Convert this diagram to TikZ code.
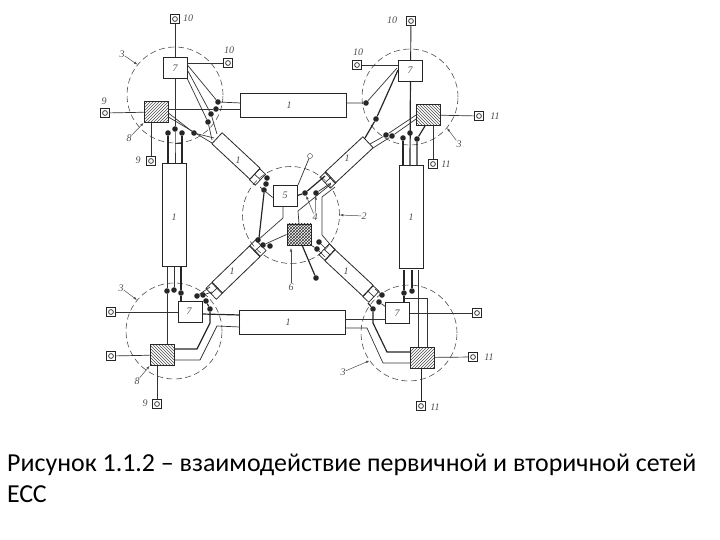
\documentclass[tikz,border=0pt]{standalone}
\usepackage{fontspec}
\setmainfont{Carlito}
\newfontfamily\tagfont{Liberation Serif}
\usetikzlibrary{arrows.meta,patterns}
\tikzset{
    zone/.style={draw=black!70, circle, dash pattern=on 6pt off 3.5pt, line width=0.6pt, minimum size=96pt, inner sep=0pt},
    unitbox/.style={draw=black!85, line width=0.8pt, minimum width=24pt, minimum height=21pt, inner sep=0pt},
    tube/.style={draw=black!85, line width=0.8pt, minimum width=106pt, minimum height=24pt, inner sep=0pt},
    uptube/.style={draw=black!85, line width=0.8pt, minimum width=24pt, minimum height=103pt, inner sep=0pt},
    difftube/.style={draw=black!85, line width=0.8pt, minimum width=52pt, minimum height=15pt, inner sep=0pt},
    coupler/.style={draw=black!85, line width=0.7pt, minimum width=8pt, minimum height=15pt, inner sep=0pt},
    terminal/.style={draw=black!85, line width=0.7pt, minimum size=9pt, inner sep=0pt, path picture={\draw[black!85] (path picture bounding box.center) circle (2.4pt);}},
    dot/.style={circle, fill=black!85, minimum size=5.6pt, inner sep=0pt},
    wire/.style={black!80, line width=0.7pt},
    bus/.style={black!85, line width=1.2pt},
    tag/.style={font=\tagfont\itshape\fontsize{10}{10}\selectfont, text=black!70, inner sep=0pt},
    pointer/.style={black!70, line width=0.5pt, -{Latex[length=3.5pt,width=2.5pt]}}
}
\begin{document}
\begin{tikzpicture}[x=1pt, y=-1pt]
\useasboundingbox (0,0) rectangle (720,540);
% exchange zones
\foreach \name/\x/\y in {ztl/175/95,ztr/410/97,zbl/174/331,zbr/409/333}
    \node[zone] (\name) at (\x,\y) {};
\node[zone, minimum size=97pt] (zc) at (291,215) {};
% trunk lines
\node[tube] (tt) at (293,105) {};
\node[tube] (tb) at (292,322) {};
\node[uptube] (tl) at (174,215) {};
\node[uptube] (tr) at (411,217) {};
% diagonal lines
\foreach \name/\x/\y/\ang in {dtl/236/156/-43,dtr/349/160/43,dbl/236/269.5/44,dbr/349/273/-43}
    \node[difftube, rotate=\ang] (\name) at (\x,\y) {};
\foreach \name/\x/\y/\ang in {cta/257.5/177/-43,ctb/328/180/43,ctc/258/248/44,ctd/327/252/-43,cte/214/291/44,ctf/371/294/-43} {
    \node[coupler, rotate=\ang] (\name) at (\x,\y) {};
    \draw[wire] (\name.west) -- (\name.east);
}
% switching units
\foreach \name/\x/\y in {ata/175/68,atb/410.5/71,atc/190/311.5,atd/397.5/313,ate/285/195.5}
    \node[unitbox] (\name) at (\x,\y) {};
\node[unitbox, pattern=north east lines, pattern color=black!70] (sa) at (156,112) {};
\node[unitbox, pattern=north west lines, pattern color=black!70] (sb) at (428.5,115) {};
\node[unitbox, pattern=north west lines, pattern color=black!70] (sc) at (162,355) {};
\node[unitbox, pattern=north east lines, pattern color=black!70] (sd) at (422.5,357.5) {};
\node[unitbox, pattern=crosshatch, pattern color=black!80] (se) at (299,234.5) {};
% subscriber points
\foreach \name/\x/\y in {pa/175/19,pb/228/63,pc/105/113,pd/151/161,pe/411/21,pf/357/65,pg/479/116,ph/433/164,pi/111/312,pj/111/356,pk/157/404,pl/477/313,pm/473/357,pn/421/406}
    \node[terminal] (\name) at (\x,\y) {};
\node[draw=black!80, circle, minimum size=5pt, inner sep=0pt] (po) at (310,156) {};
% branch points
\foreach \name/\x/\y in {ka/218/102,kb/216/109,kc/211/114,kd/208/122,ke/194/133,kf/168/133,kg/175/129,kh/182/133,
    la/366/103,lb/376/119,lc/386/135,ld/392/136,le/403/138,lf/410/133,lg/417/139,
    ma/267/178,mb/266/184,mc/264/190,md/305/193,me/316/193,mf/258/240,mg/263/245,mh/270/246,mi/319/242,mj/317/249,mk/316/278,
    na/167/291,nb/174/290,nc/181/293,nd/197/296,ne/203/295,nf/206/301,ng/210/309,
    oa/404/293,ob/412/291,oc/382/295,od/379/302,oe/373/309}
    \node[dot] (\name) at (\x,\y) {};
% upper left
\draw[wire] (pa) -- (ata);
\draw[wire] (pb) -- (pb -| ata.east);
\draw[wire] (pc) -- (sa);
\draw[wire] (pd) -- (pd |- sa.south);
\draw[wire] (ata) -- (kg);
\draw[wire] (kg) -- (175,143) -- (175,163);
\draw[wire] (175,143) -- (182,143);
\draw[bus] (kf) -- (168,163);
\draw[bus] (kh) -- (182,163);
\draw[wire] ([yshift=3pt]ata.east) -- (ka);
\draw[wire] ([yshift=-2pt]ata.east) -- (kc) -- (217,134);
\draw[wire] (ata.south east) -- (kd) -- (212,140);
\draw[wire] ([yshift=3pt]sa.east) -- (kb) -- (241,109);
\draw[wire] (ka) -- (241,103);
\draw[wire] ([yshift=-1pt]sa.east) -- (ke) -- (214,138);
\draw[wire] ([yshift=-5pt]sa.east) -- (212,143);
% upper right
\draw[bus, line width=0.9pt] (pe) -- (atb);
\draw[wire] (pf) -- (pf -| atb.west);
\draw[wire] (pg) -- (sb);
\draw[wire] (ph) -- (ph |- sb.south);
\draw[bus] (atb) -- (410,166);
\draw[wire] (tt.east |- la) -- (la) -- (397,68);
\draw[bus] (365,138) -- (lb) -- (398,70);
\draw[wire] (370,144) -- (lc) -- (sb.west);
\draw[wire] (373,148) -- (ld) -- ([yshift=-4pt]sb.west);
\draw[bus] (le) -- (403,166);
\draw[bus] (417,166) -- (lg) -- (425,126);
% centre
\draw[wire] (po) -- (298,185);
\draw[wire] ([yshift=-2pt]ate.west) -- (260,187);
\draw[bus] (mc.south) -- (259,238);
\draw[bus] (ate.east) -- (md) -- (325,176);
\draw[wire] (me) -- (331,183);
\draw[wire] (283,206) -- (283,218) -- (mf);
\draw[wire] (se.north) -- (298,211) -- (331,184);
\draw[wire] (se.west) -- (mg);
\draw[wire] (335,187) -- (322,197) -- (322,235) -- (335,250);
\draw[wire] (mi) -- (325,248);
\draw[wire] (se.south east) -- (mj) -- (325,257);
\draw[bus] (302,245) -- (mk);
% lower left
\draw[wire] (pi) -- (atc.west |- pi);
\draw[wire] (pj) -- (sc);
\draw[wire] (pk) -- (pk |- sc.south);
\draw[wire] (167,267) -- (na) -- (167,344);
\draw[wire] (174,267) -- (nb);
\draw[bus] (181,267) -- (nc) -- (181,301);
\draw[bus] (202,314) -- (240,315);
\draw[bus] (174,349) -- (197,349) -- (210,323) -- (ng) -- (nf);
\draw[wire] (174,360) -- (200,360) -- (217,326) -- (240,327);
\draw[wire] (nd) -- (210,287);
\draw[wire] (ne) -- (212,292);
% lower right
\draw[wire] (pl) -- (atd);
\draw[wire] (pm) -- (sd);
\draw[bus, line width=0.9pt] (pn) -- (pn |- sd.south);
\draw[bus] (404,270) -- (oa) -- (404,303);
\draw[bus] (412,270) -- (ob);
\draw[wire] (418,270) -- (418,347);
\draw[wire] (404,298) -- (427,298) -- (427,347);
\draw[wire] (345,319) -- (386,319);
\draw[wire] (345,328) -- (367,328) -- (383,363) -- (411,363);
\draw[bus] (368,303) -- (oe) -- (373,323) -- (387,352) -- (411,352);
\draw[wire] (od) -- (386,307);
\draw[wire] (oc) -- (375,289);
% annotations
\foreach \name/\x/\y/\txt in {ya/188/18/10,yb/229/50/10,yc/104/101/9,yd/138/160/9,ye/129/138/8,yf/122/54/3,
    yg/392/20/10,yh/358/52/10,yi/495/116/11,yj/446/164/11,yk/459/144/3,
    yl/121/288/3,ym/137/381/8,yn/145/403/9,yo/489/357/11,yp/435/407/11,yq/343/372/3,
    yr/289/105/1,ys/288/322/1,yt/174/217/1,yu/411/217/1,yv/238/160/1,yw/347/158/1,yx/232/271/1,yy/346/271/1,
    yz/285/195/5,za/315/217/4,zb/364/216/2,zc2/291/287/6,zd/175/68/7,ze/410/70/7,zf/189/311/7,zg/397/313/7}
    \node[tag] (\name) at (\x,\y) {\txt};
\draw[pointer] (yf) -- (ztl.141);
\draw[pointer] (ye) -- (sa.south west);
\draw[pointer] (yk) -- (ztr.-40);
\draw[pointer] (yl) -- (zbl.140);
\draw[pointer] (ym) -- (sc.south west);
\draw[pointer] (yq) -- (zbr.-145);
\draw[pointer] (zb) -- (zc.east);
\draw[pointer] (zc2) -- (291,248);
\draw[pointer] (za) -- (md);
\draw[pointer] (za) -- (me);
% caption
\node[anchor=north west, align=left, inner sep=0pt, font=\fontsize{25.9}{31}\selectfont] (caption) at (7,454)
    {Рисунок 1.1.2 – взаимодействие первичной и вторичной сетей\\ЕСС};
\end{tikzpicture}
\end{document}
